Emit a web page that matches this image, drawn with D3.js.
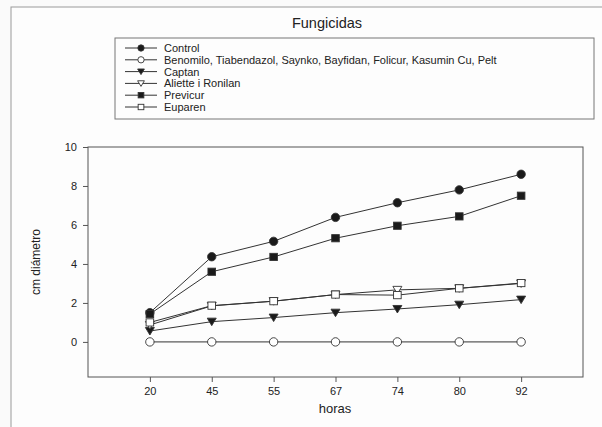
<!DOCTYPE html>
<html>
<head>
<meta charset="utf-8">
<script src="https://cdn.jsdelivr.net/npm/d3@7"></script>
<style>
body { margin: 0; background: #fafafa; }
text { font-family: "Liberation Sans", Arial, sans-serif; fill: #222; }
</style>
</head>
<body>
<div id="chart"></div>
<script>
var hours = ["20", "45", "55", "67", "74", "80", "92"];
var yTicks = [0, 2, 4, 6, 8, 10];
var names = ["Control", "Benomilo, Tiabendazol, Saynko, Bayfidan, Folicur, Kasumin Cu, Pelt",
             "Captan", "Aliette i Ronilan", "Previcur", "Euparen"];
var control  = [1.5, 4.37, 5.16, 6.39, 7.14, 7.8, 8.6];
var benomilo = [0, 0, 0, 0, 0, 0, 0];
var captan   = [0.56, 1.04, 1.25, 1.5, 1.69, 1.91, 2.17];
var aliette  = [0.87, 1.85, 2.09, 2.43, 2.67, 2.75, 3.0];
var previcur = [1.43, 3.6, 4.36, 5.32, 5.96, 6.44, 7.5];
var euparen  = [1.0, 1.86, 2.09, 2.43, 2.4, 2.75, 3.02];
var symbols = ["circle", "circle", "tri", "tri", "square", "square"];
var filled  = [true, false, true, false, true, false];

var series = [control, benomilo, captan, aliette, previcur, euparen].map(function(v, i) {
  return { name: names[i], values: v, sym: symbols[i], fill: filled[i] };
});

var W = 602, H = 427;
var svg = d3.select("#chart").append("svg").attr("width", W).attr("height", H);

// outer frame
svg.append("rect").attr("x", 11).attr("y", 7).attr("width", 620).attr("height", 440)
  .attr("fill", "#fdfdfd").attr("stroke", "#999").attr("stroke-width", 1);

var pL = 88, pR = 583, pT = 147, pB = 377;
var x = d3.scalePoint().domain(hours).range([pL, pR]).padding(1);
var y = d3.scaleLinear().domain([-1.8, 10]).range([pB, pT]);

svg.append("text").attr("x", 327).attr("y", 28).attr("text-anchor", "middle")
  .attr("font-size", 14.5).text("Fungicidas");

// plot frame
svg.append("rect").attr("x", pL).attr("y", pT).attr("width", pR - pL).attr("height", pB - pT)
  .attr("fill", "none").attr("stroke", "#555").attr("stroke-width", 1);

var yAxis = svg.append("g").attr("transform", "translate(" + pL + ",0)")
  .call(d3.axisLeft(y).tickValues(yTicks).tickSize(5).tickPadding(6));
var xAxis = svg.append("g").attr("transform", "translate(0," + pB + ")")
  .call(d3.axisBottom(x).tickSize(5).tickPadding(5));
[xAxis, yAxis].forEach(function(a) {
  a.select(".domain").remove();
  a.selectAll("line").attr("stroke", "#555");
  a.selectAll("text").attr("font-size", 11).attr("fill", "#333");
});

svg.append("text").attr("transform", "translate(40,262) rotate(-90)")
  .attr("text-anchor", "middle").attr("font-size", 12).text("cm diámetro");
svg.append("text").attr("x", 335).attr("y", 413).attr("text-anchor", "middle")
  .attr("font-size", 13).text("horas");

function marker(g, s, cx, cy, k) {
  var m;
  if (s.sym == "circle") {
    m = g.append("circle").attr("cx", cx).attr("cy", cy).attr("r", 4.2 * k);
  } else if (s.sym == "square") {
    m = g.append("rect").attr("x", cx - 3.8 * k).attr("y", cy - 3.6 * k).attr("width", 7.6 * k).attr("height", 7.2 * k);
  } else {
    m = g.append("path").attr("d", "M" + (cx - 4.5 * k) + "," + (cy - 3.5 * k) + "L" + (cx + 4.5 * k) + "," + (cy - 3.5 * k) + "L" + cx + "," + (cy + 4 * k) + "Z");
  }
  m.attr("fill", s.fill ? "#1a1a1a" : "#fff").attr("stroke", "#333").attr("stroke-width", 0.9);
}

var line = d3.line().x(function(d, i) { return x(hours[i]); }).y(function(d) { return y(d); });

series.forEach(function(s) {
  var g = svg.append("g");
  g.append("path").attr("d", line(s.values)).attr("fill", "none")
    .attr("stroke", "#333").attr("stroke-width", 1);
  s.values.forEach(function(v, i) { marker(g, s, x(hours[i]), y(v), 1); });
});

// legend
var lg = svg.append("g");
lg.append("rect").attr("x", 115).attr("y", 38).attr("width", 479).attr("height", 81)
  .attr("fill", "none").attr("stroke", "#777").attr("stroke-width", 1);
series.forEach(function(s, i) {
  var yy = 48 + i * 11.8;
  lg.append("line").attr("x1", 125).attr("x2", 157).attr("y1", yy).attr("y2", yy)
    .attr("stroke", "#333").attr("stroke-width", 1);
  marker(lg, s, 141, yy, 0.75);
  lg.append("text").attr("x", 164).attr("y", yy + 4).attr("font-size", 11).text(s.name);
});
</script>
</body>
</html>
